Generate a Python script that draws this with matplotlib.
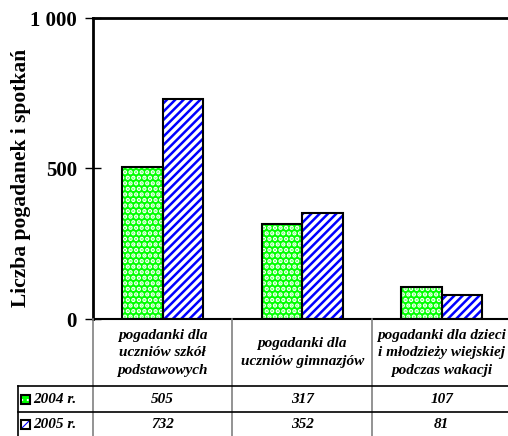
import numpy as np
import matplotlib
matplotlib.use('Agg')
import matplotlib.pyplot as plt
import matplotlib.transforms as mtransforms
from matplotlib.lines import Line2D
from matplotlib.patches import Rectangle

categories = ['pogadanki dla\nuczniów szkół\npodstawowych',
              'pogadanki dla\nuczniów gimnazjów',
              'pogadanki dla dzieci\ni młodzieży wiejskiej\npodczas wakacji']
series_names = ['2004 r.', '2005 r.']
values_2004 = [505, 317, 107]
values_2005 = [732, 352, 81]
y_ticks = [0, 500, 1000]
y_tick_labels = ['0', '500', '1 000']
y_title = 'Liczba pogadanek i spotkań'

plt.rcParams['font.family'] = ['Liberation Serif', 'DejaVu Serif']
plt.rcParams['hatch.linewidth'] = 0.8

W, H = 508, 436
fig = plt.figure(figsize=(W / 100, H / 100), dpi=100)
ax = fig.add_axes([93 / W, 1 - 319 / H, 1 - 93 / W, 301 / H])

green = '#00ff00'
blue = '#0000ff'
styles = [
    dict(face=green, hatch_color='white', hatch='...', hlw=2.2),
    dict(face='white', hatch_color=blue, hatch='////', hlw=1.8),
]


def hatched_bars(x, vals, width, st):
    bars = ax.bar(x, vals, width, color=st['face'], edgecolor=st['hatch_color'],
                  hatch=st['hatch'], linewidth=0, zorder=2)
    for b in bars:
        if hasattr(b, 'set_hatch_linewidth'):
            b.set_hatch_linewidth(st['hlw'])
    ax.bar(x, vals, width, fill=False, edgecolor='black', linewidth=1.5, zorder=3)


x = np.arange(len(categories))
w = 0.29
hatched_bars(x - w / 2, values_2004, w, styles[0])
hatched_bars(x + w / 2, values_2005, w, styles[1])

ax.set_xlim(-0.5, 2.475)
ax.set_ylim(0, 1000)
ax.set_xticks([])
ax.set_yticks(y_ticks)
ax.set_yticklabels(y_tick_labels, fontsize=15, fontweight='bold')
ax.tick_params(axis='y', direction='inout', length=11, width=1, pad=6)
ax.spines['right'].set_visible(False)
ax.spines['left'].set_linewidth(2)
ax.spines['top'].set_linewidth(2)
ax.spines['bottom'].set_linewidth(1.5)

fig.text(21 / W, 1 - 178 / H, y_title, rotation=90, ha='center', va='center',
         fontsize=15.5, fontweight='bold')

# data table under the axis
tr = mtransforms.blended_transform_factory(ax.transData, fig.transFigure)
y_axis = 1 - 319 / H
y_head = 1 - 386 / H
y_row1 = 1 - 412 / H
y_bot = 0.0

for xv in [-0.5, 0.5, 1.5]:
    fig.add_artist(Line2D([xv, xv], [y_axis, y_bot], transform=tr, color='#808080', lw=1.2))
fig.add_artist(Line2D([18 / W, 18 / W], [y_head, y_bot], transform=fig.transFigure,
                      color='black', lw=1.2))
for yv in [y_head, y_row1]:
    fig.add_artist(Line2D([18 / W, 1], [yv, yv], transform=fig.transFigure,
                          color='black', lw=1.2))

for i, cat in enumerate(categories):
    fig.text(i, (y_axis + y_head) / 2, cat, transform=tr, ha='center', va='center',
             fontsize=11, fontweight='bold', style='italic', linespacing=1.45)

rows = [values_2004, values_2005]
row_mid = [(y_head + y_row1) / 2, (y_row1 + y_bot) / 2]
for r, vals in enumerate(rows):
    for i, v in enumerate(vals):
        fig.text(i, row_mid[r], str(v), transform=tr, ha='center', va='center',
                 fontsize=11, fontweight='bold', style='italic')
    st = styles[r]
    sq = Rectangle((21 / W, row_mid[r] - 4.5 / H), 9 / W, 9 / H, transform=fig.transFigure,
                   facecolor=st['face'], edgecolor=st['hatch_color'], hatch=st['hatch'],
                   linewidth=0)
    fig.add_artist(sq)
    fig.add_artist(Rectangle((21 / W, row_mid[r] - 4.5 / H), 9 / W, 9 / H,
                             transform=fig.transFigure, fill=False, edgecolor='black', lw=1.5))
    fig.text(33 / W, row_mid[r], series_names[r], ha='left', va='center',
             fontsize=11, fontweight='bold', style='italic')

fig.savefig('out.png', dpi=100)
